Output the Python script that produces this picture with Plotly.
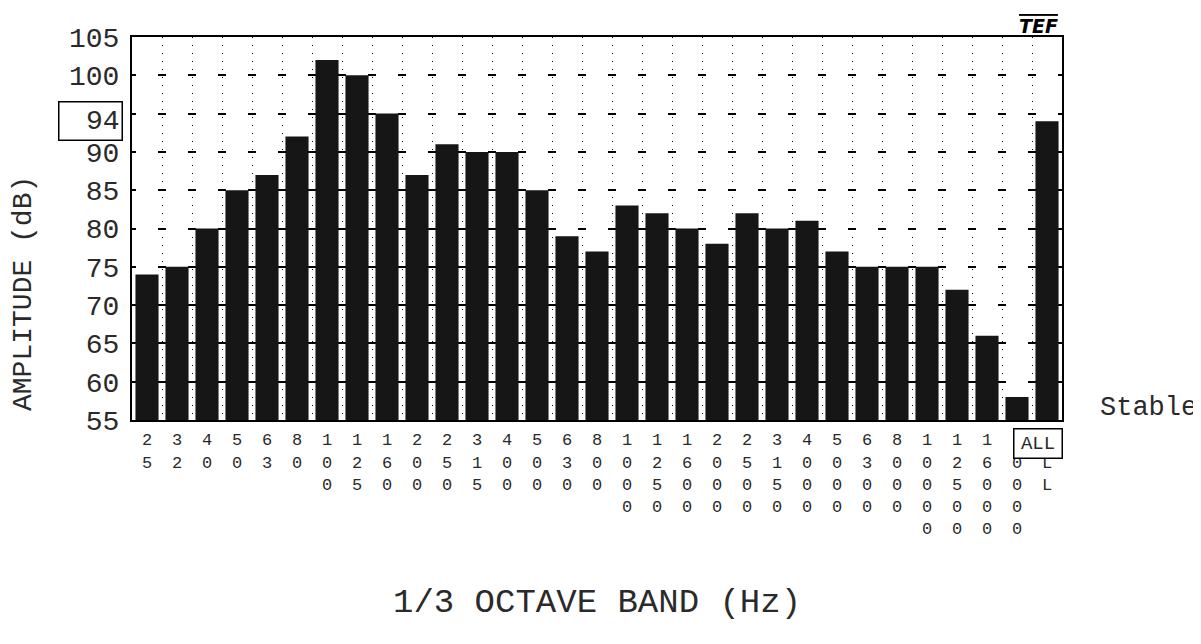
import plotly.graph_objects as go

bands = ["25", "32", "40", "50", "63", "80", "100", "125", "160", "200",
         "250", "315", "400", "500", "630", "800", "1000", "1250", "1600", "2000",
         "2500", "3150", "4000", "5000", "6300", "8000", "10000", "12500", "16000", "20000",
         "ALL"]
levels = [74, 75, 80, 85, 87, 92, 102, 100, 95, 87,
          91, 90, 90, 85, 79, 77, 83, 82, 80, 78,
          82, 80, 81, 77, 75, 75, 75, 72, 66, 58,
          94]
y_ticks = [55, 60, 65, 70, 75, 80, 85, 90, 95, 100, 105]
y_floor = 55
overall_label = "ALL"
marker_value = 94
status_text = "Stable"
x_title = "1/3 OCTAVE BAND (Hz)"
y_title = "AMPLITUDE (dB)"

tick_text = ["<br>".join(list(b)) for b in bands]
FONT = "Liberation Mono, DejaVu Sans Mono, monospace"
INK = "#2a2a2a"

fig = go.Figure(go.Bar(
    x=bands,
    y=[v - y_floor for v in levels],
    base=y_floor,
    marker=dict(color="#161616", line=dict(width=0)),
))

fig.update_layout(
    width=1201, height=644,
    margin=dict(l=124, r=147, t=29, b=232),
    paper_bgcolor="white", plot_bgcolor="white",
    bargap=0.23,
    showlegend=False,
    font=dict(family=FONT, color=INK),
)
fig.update_xaxes(
    type="category",
    range=[-0.5, 30.5],
    tickvals=bands, ticktext=tick_text,
    tickson="boundaries",
    ticks="",
    ticklabelstandoff=3,
    tickfont=dict(family=FONT, size=17, color=INK),
    showgrid=True, gridcolor="black", gridwidth=1, griddash="1px,7px",
    showline=True, linecolor="black", linewidth=2, mirror=True,
)
fig.update_yaxes(
    range=[55, 105],
    tickvals=y_ticks,
    ticks="",
    ticklabelstandoff=5,
    tickfont=dict(family=FONT, size=28, color=INK),
    showgrid=True, gridcolor="black", gridwidth=1.5, griddash="4px,22px,4px,0px",
    zeroline=False,
    showline=True, linecolor="black", linewidth=2, mirror=True,
)

fig.add_annotation(
    xref="paper", x=0, xshift=-9, xanchor="right",
    yref="y", y=marker_value, yanchor="middle",
    text=str(marker_value), showarrow=False,
    font=dict(family=FONT, size=28, color=INK),
    width=58, height=33, align="right",
    bordercolor="black", borderwidth=1.5, borderpad=2, bgcolor="white",
)
fig.add_annotation(
    xref="x", x=bands[-1], xshift=-9, xanchor="center",
    yref="paper", y=0, yshift=-8, yanchor="top",
    text=overall_label, showarrow=False,
    font=dict(family=FONT, size=19, color=INK),
    width=45, height=26,
    bordercolor="black", borderwidth=1.5, borderpad=1, bgcolor="white",
)
fig.add_annotation(
    xref="paper", x=1, xshift=36, xanchor="left",
    yref="y", y=56.6, yanchor="middle",
    text=status_text, showarrow=False,
    font=dict(family=FONT, size=27, color=INK),
)
fig.add_annotation(
    xref="paper", x=0.5, yref="paper", y=0, yshift=-183, yanchor="middle",
    text=x_title, showarrow=False,
    font=dict(family=FONT, size=34, color=INK),
)
fig.add_annotation(
    xref="paper", x=0, xshift=-108, xanchor="center",
    yref="paper", y=0.329, yanchor="middle",
    text=y_title, textangle=-90, showarrow=False,
    font=dict(family=FONT, size=28, color=INK),
)
fig.add_annotation(
    xref="paper", x=1, xshift=-2, yref="paper", y=1, yshift=24,
    text="<b><i>TEF</i></b>", showarrow=False,
    font=dict(family="DejaVu Sans", size=19, color="black", lineposition="over"),
)

fig.write_html("out.html")
